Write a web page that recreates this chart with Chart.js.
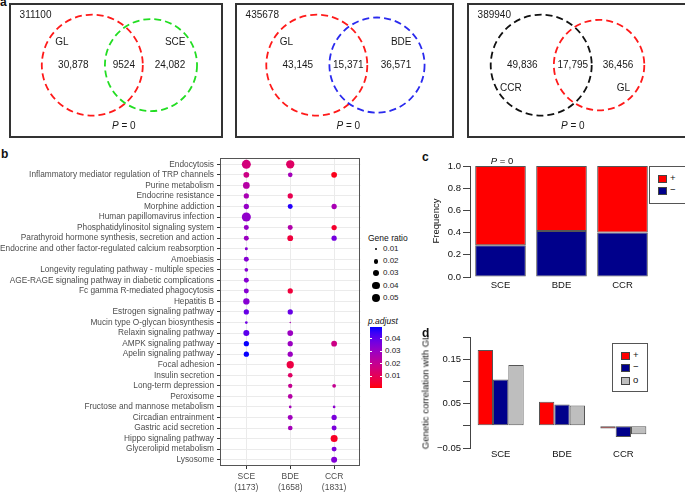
<!DOCTYPE html>
<html lang="en">
<head>
  <meta charset="UTF-8" />
  <title>GL overlap and pathway enrichment</title>
  <script src="https://cdn.jsdelivr.net/npm/chart.js@4"></script>
  <style>
    body { margin: 0; width: 685px; height: 493px; position: relative; overflow: hidden; background: #fff;
           font-family: "Liberation Sans", Arial, sans-serif; color: #111; }
    .abs { position: absolute; white-space: nowrap; }
    .tag { position: absolute; font-weight: bold; font-size: 12px; }
    .box { position: absolute; top: 3px; height: 135px; border: 2px solid #333; box-sizing: border-box; }
    .box canvas { display: block; }
    .rot { position: absolute; transform: translate(-50%, -50%) rotate(-90deg); font-size: 9.5px; white-space: nowrap; }
    .legbox { position: absolute; border: 1px solid #555; background: #fff; }
    .sw { position: absolute; width: 7px; height: 6px; border: 1px solid #444; }
    .lt { position: absolute; font-size: 9.5px; line-height: 10px; }
  </style>
</head>
<body>

  <div class="tag" style="left:0;top:-5px">a</div>
  <div class="box" style="left:9px;width:214px"><canvas id="venn0" width="210" height="131"></canvas></div>
  <div class="box" style="left:235px;width:219px"><canvas id="venn1" width="215" height="131"></canvas></div>
  <div class="box" style="left:467px;width:220px"><canvas id="venn2" width="216" height="131"></canvas></div>

  <div class="tag" style="left:1px;top:147px">b</div>
  <canvas id="dotChart" class="abs" style="left:0;top:150px" width="365" height="345"></canvas>
  <div id="sizeLegend"></div>
  <div id="colorLegend"></div>

  <div class="tag" style="left:422px;top:150px">c</div>
  <canvas id="freqChart" class="abs" style="left:430px;top:150px" width="255" height="150"></canvas>
  <div class="rot" style="left:435px;top:221px">Frequency</div>
  <div class="abs" style="left:502px;top:160px;transform:translate(-50%,-50%);font-size:9.5px"><i>P</i> = 0</div>
  <div class="legbox" style="left:649px;top:166px;width:40px;height:36px">
    <div class="sw" style="left:8px;top:8px;background:#ff0000"></div><div class="lt" style="left:20px;top:6px">+</div>
    <div class="sw" style="left:8px;top:20px;background:#00008b"></div><div class="lt" style="left:20px;top:18px">−</div>
  </div>

  <div class="tag" style="left:422px;top:326px">d</div>
  <canvas id="corChart" class="abs" style="left:430px;top:325px" width="255" height="150"></canvas>
  <div class="rot" style="left:425px;top:392px">Genetic correlation with GL</div>
  <div class="legbox" style="left:612px;top:343px;width:34px;height:47px">
    <div class="sw" style="left:8px;top:8px;background:#ff0000"></div><div class="lt" style="left:20px;top:6px">+</div>
    <div class="sw" style="left:8px;top:20px;background:#00008b"></div><div class="lt" style="left:20px;top:18px">−</div>
    <div class="sw" style="left:8px;top:33px;background:#bebebe"></div><div class="lt" style="left:20px;top:31px">o</div>
  </div>

  <script>
    // ---------- datos ----------
    // panel a: diagramas de Venn
    const vennTotals = [311100, 435678, 389940];
    const vennNames = [['GL', 'SCE'], ['GL', 'BDE'], ['CCR', 'GL']];
    const vennCounts = [[30878, 9524, 24082], [43145, 15371, 36571], [49836, 17795, 36456]];
    const vennP = ['0', '0', '0'];

    // panel b: enriquecimiento KEGG
    const pathways = [
      'Endocytosis', 'Inflammatory mediator regulation of TRP channels', 'Purine metabolism',
      'Endocrine resistance', 'Morphine addiction', 'Human papillomavirus infection',
      'Phosphatidylinositol signaling system', 'Parathyroid hormone synthesis, secretion and action',
      'Endocrine and other factor-regulated calcium reabsorption', 'Amoebiasis',
      'Longevity regulating pathway - multiple species', 'AGE-RAGE signaling pathway in diabetic complications',
      'Fc gamma R-mediated phagocytosis', 'Hepatitis B', 'Estrogen signaling pathway',
      'Mucin type O-glycan biosynthesis', 'Relaxin signaling pathway', 'AMPK signaling pathway',
      'Apelin signaling pathway', 'Focal adhesion', 'Insulin secretion', 'Long-term depression',
      'Peroxisome', 'Fructose and mannose metabolism', 'Circadian entrainment', 'Gastric acid secretion',
      'Hippo signaling pathway', 'Glycerolipid metabolism', 'Lysosome'
    ];
    const dotGroups = ['SCE', 'BDE', 'CCR'];
    const dotGroupN = [1173, 1658, 1831];
    const _ = null;
    const ratioSCE = [0.064, 0.026, 0.035, 0.022, 0.022, 0.065, 0.020, 0.020, 0.0102, 0.020, 0.0128, 0.020, 0.020, 0.031, 0.022, 0.0094, 0.028, 0.022, 0.022, _, _, _, _, _, _, _, _, _, _];
    const padjSCE  = [0.016, 0.018, 0.024, 0.027, 0.031, 0.032, 0.031, 0.030, 0.034, 0.034, 0.034, 0.034, 0.034, 0.034, 0.039, 0.038, 0.041, 0.049, 0.049, _, _, _, _, _, _, _, _, _, _];
    const ratioBDE = [0.054, 0.018, _, 0.022, 0.020, _, 0.020, 0.026, _, _, _, _, 0.022, _, 0.022, 0.008, 0.026, 0.022, 0.022, 0.0415, 0.018, 0.016, 0.018, 0.0094, 0.020, 0.018, _, _, _];
    const padjBDE  = [0.012, 0.028, _, 0.009, 0.047, _, 0.025, 0.006, _, _, _, _, 0.006, _, 0.039, 0.027, 0.030, 0.030, 0.030, 0.007, 0.012, 0.020, 0.024, 0.028, 0.029, 0.028, _, _, _];
    const ratioCCR = [_, 0.026, _, _, 0.022, _, 0.022, 0.022, _, _, _, _, _, _, _, _, _, 0.026, _, _, _, 0.013, _, 0.0094, 0.022, 0.020, 0.038, 0.020, 0.028];
    const padjCCR  = [_, 0.002, _, _, 0.027, _, 0.004, 0.037, _, _, _, _, _, _, _, _, _, 0.018, _, _, _, 0.020, _, 0.033, 0.036, 0.036, 0.003, 0.036, 0.035];
    const sizeBreaks = [0.01, 0.02, 0.03, 0.04, 0.05];
    const padjBreaks = [0.04, 0.03, 0.02, 0.01];

    // panel c: frecuencia de signo
    const freqGroups = ['SCE', 'BDE', 'CCR'];
    const freqNeg = [0.285, 0.414, 0.40];
    const freqPos = [0.715, 0.586, 0.60];

    // panel d: correlación genética con GL
    const corGroups = ['SCE', 'BDE', 'CCR'];
    const corPos = [0.171, 0.054, -0.006];
    const corNeg = [0.104, 0.048, -0.025];
    const corNone = [0.137, 0.046, -0.019];

    Chart.defaults.font.family = '"Liberation Sans", Arial, sans-serif';
    Chart.defaults.color = '#111';

    // ---------- escala de color (Lab, rojo -> azul) ----------
    const lin = c => { c /= 255; return c <= 0.04045 ? c / 12.92 : Math.pow((c + 0.055) / 1.055, 2.4); };
    const gam = c => { c = c <= 0.0031308 ? 12.92 * c : 1.055 * Math.pow(c, 1 / 2.4) - 0.055; return Math.round(Math.min(1, Math.max(0, c)) * 255); };
    const fl = t => t > 216 / 24389 ? Math.cbrt(t) : (24389 / 27 * t + 16) / 116;
    const fi = t => t * t * t > 216 / 24389 ? t * t * t : (116 * t - 16) / (24389 / 27);
    function rgb2lab([r, g, b]) {
      r = lin(r); g = lin(g); b = lin(b);
      const X = (0.4124 * r + 0.3576 * g + 0.1805 * b) / 0.95047;
      const Y = 0.2126 * r + 0.7152 * g + 0.0722 * b;
      const Z = (0.0193 * r + 0.1192 * g + 0.9505 * b) / 1.08883;
      return [116 * fl(Y) - 16, 500 * (fl(X) - fl(Y)), 200 * (fl(Y) - fl(Z))];
    }
    function lab2rgb([L, a, b]) {
      const fy = (L + 16) / 116, fx = fy + a / 500, fz = fy - b / 200;
      const X = fi(fx) * 0.95047, Y = fi(fy), Z = fi(fz) * 1.08883;
      const r = 3.2406 * X - 1.5372 * Y - 0.4986 * Z;
      const g = -0.9689 * X + 1.8758 * Y + 0.0415 * Z;
      const bb = 0.0557 * X - 0.2040 * Y + 1.0570 * Z;
      return `rgb(${gam(r)},${gam(g)},${gam(bb)})`;
    }
    const labLow = rgb2lab([255, 0, 0]), labHigh = rgb2lab([0, 0, 255]);
    const pMin = 0.0003, pMax = 0.0497;
    function padjColor(p) {
      let t = Math.min(1, Math.max(0, (p - pMin) / (pMax - pMin)));
      t = 1 - Math.pow(1 - t, 1.5);   // se ve más azul en la mitad, como la figura
      return lab2rgb(labLow.map((v, i) => v + (labHigh[i] - v) * t));
    }
    // tamaño por área, como scale_size
    function dotRadius(ratio) {
      const t = Math.min(1, Math.max(0, (ratio - 0.008) / 0.057));
      return 0.756 * (1 + 5 * Math.sqrt(t));
    }

    const fmtCount = n => n >= 10000 ? n.toLocaleString('en-US') : String(n);
    const base = { responsive: false, animation: false, events: [],
                   plugins: { legend: { display: false }, tooltip: { enabled: false } } };

    // ---------- panel a ----------
    const unitPx = 50.5;
    const vennLeft = [-1.61, -1.58, -1.43];
    const namesBelow = [false, false, true];
    const vennColors = [['#ff1a1a', '#22dd22'], ['#ff1a1a', '#2a2aee'], ['#111111', '#ff1a1a']];

    const vennPlugin = {
      id: 'vennText',
      beforeDatasetsDraw(chart) { chart.ctx.save(); chart.ctx.setLineDash([7, 4]); },
      afterDatasetsDraw(chart, args, opts) {
        const ctx = chart.ctx;
        ctx.restore();
        const x = chart.scales.x, y = chart.scales.y;
        const [c1, c2] = chart.data.datasets[0].data;
        const i = opts.index;
        ctx.save();
        ctx.fillStyle = '#1a1a1a';
        ctx.font = '10px "Liberation Sans", Arial, sans-serif';
        ctx.textBaseline = 'middle';
        ctx.textAlign = 'center';
        const cx = [((c1.x - c1.r) + (c2.x - c2.r)) / 2, ((c2.x - c2.r) + (c1.x + c1.r)) / 2, ((c1.x + c1.r) + (c2.x + c2.r)) / 2];
        vennCounts[i].forEach((n, k) => ctx.fillText(fmtCount(n), x.getPixelForValue(cx[k]), y.getPixelForValue(0)));
        const ny = namesBelow[i] ? -0.45 : 0.45;
        ctx.fillText(vennNames[i][0], x.getPixelForValue(c1.x - 0.6), y.getPixelForValue(ny));
        ctx.fillText(vennNames[i][1], x.getPixelForValue(c2.x + 0.48), y.getPixelForValue(ny));
        ctx.textAlign = 'left';
        ctx.fillText(String(vennTotals[i]), x.getPixelForValue(x.min + 0.17), y.getPixelForValue(y.max - 0.2));
        // P = 0 con P en cursiva
        const py = y.getPixelForValue(y.min + 0.2);
        ctx.font = 'italic 10px "Liberation Sans", Arial, sans-serif';
        const wP = ctx.measureText('P').width;
        ctx.font = '10px "Liberation Sans", Arial, sans-serif';
        const rest = ' = ' + vennP[i];
        const wR = ctx.measureText(rest).width;
        let px = x.getPixelForValue(cx[1]) - (wP + wR) / 2;
        ctx.font = 'italic 10px "Liberation Sans", Arial, sans-serif';
        ctx.fillText('P', px, py);
        ctx.font = '10px "Liberation Sans", Arial, sans-serif';
        ctx.fillText(rest, px + wP, py);
        ctx.restore();
      }
    };

    vennCounts.forEach((counts, i) => {
      const n1 = counts[0] + counts[1], n2 = counts[1] + counts[2];
      const r2 = Math.sqrt(n2 / n1);
      const circles = [{ x: 0, y: 0, r: 1 }, { x: 1 + r2 - 0.75, y: 0, r: r2 }];
      const cv = document.getElementById('venn' + i);
      const xmin = vennLeft[i];
      new Chart(cv, {
        type: 'scatter',
        data: { datasets: [{
          data: circles,
          pointRadius: c => c.raw ? c.raw.r * (c.chart.scales.x.getPixelForValue(1) - c.chart.scales.x.getPixelForValue(0)) : 0,
          pointBackgroundColor: 'rgba(0,0,0,0)',
          pointBorderColor: vennColors[i],
          pointBorderWidth: 1.8
        }] },
        options: {
          ...base,
          layout: { padding: 0 },
          scales: {
            x: { type: 'linear', display: false, min: xmin, max: xmin + cv.width / unitPx },
            y: { type: 'linear', display: false, min: 1.19 - cv.height / unitPx, max: 1.19 }
          },
          plugins: { ...base.plugins, vennText: { index: i } }
        },
        plugins: [vennPlugin]
      });
    });

    // ---------- panel b ----------
    const panelBorder = {
      id: 'panelBorder',
      afterDraw(chart) {
        const a = chart.chartArea, ctx = chart.ctx;
        ctx.save();
        ctx.strokeStyle = '#555';
        ctx.lineWidth = 1;
        ctx.strokeRect(Math.round(a.left) + 0.5, Math.round(a.top) + 0.5, Math.round(a.width) - 1, Math.round(a.height) - 1);
        ctx.restore();
      }
    };
    const ratios = [ratioSCE, ratioBDE, ratioCCR];
    const padjs = [padjSCE, padjBDE, padjCCR];
    const dotSets = ratios.map((rs, g) => ({
      data: rs.map((r, i) => r == null ? null : { x: g, y: i, ratio: r, padj: padjs[g][i] }).filter(Boolean),
      pointRadius: c => c.raw ? dotRadius(c.raw.ratio) : 2,
      pointBackgroundColor: c => c.raw ? padjColor(c.raw.padj) : '#000',
      pointBorderWidth: 0
    }));

    new Chart(document.getElementById('dotChart'), {
      type: 'scatter',
      data: { datasets: dotSets },
      options: {
        ...base,
        layout: { padding: { top: 7, right: 2, bottom: 2, left: 0 } },
        scales: {
          x: {
            type: 'linear', min: -0.6, max: 2.6,
            afterFit: s => { s.height = 27; },
            grid: { color: '#ebebeb', tickColor: '#333', tickLength: 3 },
            border: { display: false },
            ticks: {
              stepSize: 1, includeBounds: false, autoSkip: false, maxRotation: 0, padding: 2,
              color: '#4d4d4d', font: { size: 8.5, lineHeight: 1.3 },
              callback: v => { const k = Math.round(v); return Math.abs(v - k) < 1e-6 && dotGroups[k] ? [dotGroups[k], '(' + dotGroupN[k] + ')'] : ''; }
            }
          },
          y: {
            type: 'linear', min: -0.6, max: pathways.length - 0.4, reverse: true,
            afterFit: s => { s.width = 220; },
            grid: { color: '#ebebeb', tickColor: '#333', tickLength: 3 },
            border: { display: false },
            ticks: {
              stepSize: 1, includeBounds: false, autoSkip: false, padding: 3,
              color: '#4d4d4d', font: { size: 8.3 },
              callback: v => { const k = Math.round(v); return Math.abs(v - k) < 1e-6 && pathways[k] ? pathways[k] : ''; }
            }
          }
        }
      },
      plugins: [panelBorder]
    });

    // leyenda de tamaño
    const sizeLeg = document.getElementById('sizeLegend');
    sizeLeg.innerHTML = '<div class="abs" style="left:368px;top:233px;font-size:8.5px">Gene ratio</div>' +
      sizeBreaks.map((v, k) => {
        const r = dotRadius(v), cy = 249 + k * 12.2;
        return `<div class="abs" style="left:${376 - r}px;top:${cy - r}px;width:${2 * r}px;height:${2 * r}px;border-radius:50%;background:#000"></div>` +
               `<div class="abs" style="left:383px;top:${cy - 5}px;font-size:8px;line-height:10px;color:#222">${v.toFixed(2)}</div>`;
      }).join('');

    // leyenda de color
    const barTop = 327, barH = 61;
    const stops = [];
    for (let k = 0; k <= 30; k++) stops.push(`${padjColor(pMin + (pMax - pMin) * k / 30)} ${(k * 100 / 30).toFixed(1)}%`);
    const yOf = v => barTop + barH - (v - pMin) / (pMax - pMin) * barH;
    document.getElementById('colorLegend').innerHTML =
      '<div class="abs" style="left:368px;top:316px;font-size:8.5px;font-style:italic">p.adjust</div>' +
      `<div class="abs" style="left:370px;top:${barTop}px;width:12px;height:${barH}px;background:linear-gradient(to top, ${stops.join(',')})"></div>` +
      padjBreaks.map(v => {
        const y = yOf(v);
        return `<div class="abs" style="left:370px;top:${y - 0.5}px;width:2px;height:1px;background:#fff"></div>` +
               `<div class="abs" style="left:380px;top:${y - 0.5}px;width:2px;height:1px;background:#fff"></div>` +
               `<div class="abs" style="left:385px;top:${y - 5}px;font-size:8px;line-height:10px;color:#222">${v.toFixed(2)}</div>`;
      }).join('');

    // ---------- panel c ----------
    const yAxisR = {
      grid: { drawOnChartArea: false, drawTicks: true, tickLength: 7, color: '#444' },
      border: { display: true, color: '#444' }
    };
    new Chart(document.getElementById('freqChart'), {
      type: 'bar',
      data: {
        labels: freqGroups,
        datasets: [
          { data: freqNeg, backgroundColor: '#00008b', borderColor: '#555', borderWidth: 1, borderSkipped: false },
          { data: freqPos, backgroundColor: '#ff0000', borderColor: '#555', borderWidth: 1, borderSkipped: false }
        ]
      },
      options: {
        ...base,
        layout: { padding: { top: 16, right: 32, bottom: 3, left: 0 } },
        datasets: { bar: { categoryPercentage: 1, barPercentage: 0.83 } },
        scales: {
          x: {
            stacked: true,
            afterFit: s => { s.height = 20; },
            grid: { display: false, drawTicks: false }, border: { display: false },
            ticks: { padding: 3, font: { size: 9.5 }, color: '#111' }
          },
          y: {
            ...yAxisR, stacked: true, min: 0, max: 1,
            afterFit: s => { s.width = 40; },
            ticks: { stepSize: 0.2, padding: 2, font: { size: 9.5 }, color: '#111', callback: v => v.toFixed(1) }
          }
        }
      }
    });

    // ---------- panel d ----------
    new Chart(document.getElementById('corChart'), {
      type: 'bar',
      data: {
        labels: corGroups,
        datasets: [
          { data: corPos, backgroundColor: '#ff0000', borderColor: '#555', borderWidth: 1, borderSkipped: false },
          { data: corNeg, backgroundColor: '#00008b', borderColor: '#555', borderWidth: 1, borderSkipped: false },
          { data: corNone, backgroundColor: '#bebebe', borderColor: '#555', borderWidth: 1, borderSkipped: false }
        ]
      },
      options: {
        ...base,
        layout: { padding: { top: 12, right: 31, bottom: 3, left: 0 } },
        datasets: { bar: { categoryPercentage: 0.75, barPercentage: 1 } },
        scales: {
          x: {
            afterFit: s => { s.height = 24; },
            grid: { display: false, drawTicks: false }, border: { display: false },
            ticks: { padding: 1, font: { size: 9.5 }, color: '#111' }
          },
          y: {
            ...yAxisR, min: -0.05, max: 0.2,
            afterFit: s => { s.width = 40; },
            ticks: {
              stepSize: 0.05, padding: 2, font: { size: 9.5 }, color: '#111',
              callback: v => { const k = Math.round(v * 100); return [15, 5, -5].includes(k) ? (k < 0 ? '−' : '') + Math.abs(v).toFixed(2) : ''; }
            }
          }
        }
      }
    });
  </script>
</body>
</html>
